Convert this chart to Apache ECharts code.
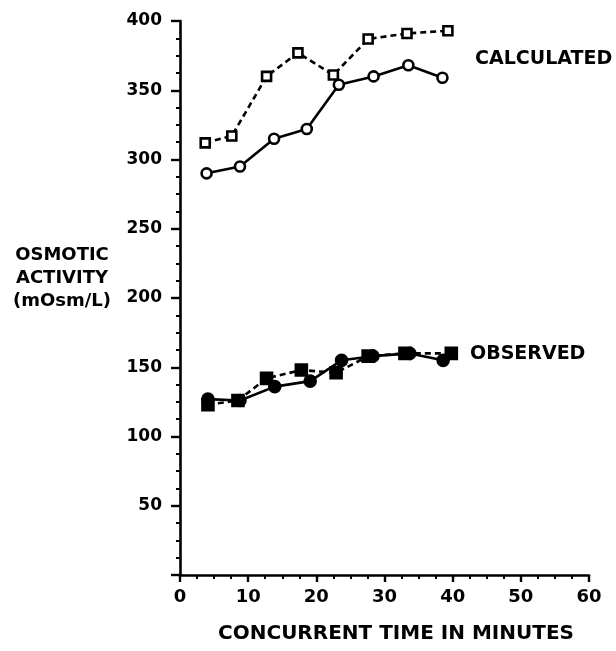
<!DOCTYPE html>
<html>
<head>
<meta charset="utf-8">
<script src="https://cdn.jsdelivr.net/npm/echarts@6/dist/echarts.min.js"></script>
<style>html,body{margin:0;padding:0;background:#fff}#c{width:616px;height:651px}</style>
</head>
<body>
<div id="c"></div>
<script>
// Calculated (open markers)
const calcSquareX = [3.7, 7.6, 12.7, 17.3, 22.5, 27.6, 33.3, 39.3];
const calcSquareY = [312, 317, 360, 377, 361, 387, 391, 393];
const calcCircleX = [3.9, 8.8, 13.8, 18.6, 23.3, 28.4, 33.5, 38.5];
const calcCircleY = [290, 295, 315, 322, 354, 360, 368, 359];
// Observed (filled markers)
const obsSquareX = [4.1, 8.5, 12.7, 17.8, 22.9, 27.6, 33.0, 39.8];
const obsSquareY = [123, 126, 142, 148, 146, 158, 160, 160];
const obsCircleX = [4.1, 8.8, 13.9, 19.1, 23.7, 28.3, 33.7, 38.6];
const obsCircleY = [127, 126, 136, 140, 155, 158, 160, 155];

const xTicks = [0, 10, 20, 30, 40, 50, 60];
const yTicks = [50, 100, 150, 200, 250, 300, 350, 400];
const seriesLabels = ['CALCULATED', 'OBSERVED'];
const yTitleLines = ['OSMOTIC', 'ACTIVITY', '(mOsm/L)'];
const xTitle = 'CONCURRENT TIME IN MINUTES';

const zip = (xs, ys) => xs.map((x, i) => [x, ys[i]]);
const FONT = 'DejaVu Sans';

const chart = echarts.init(document.getElementById('c'), null, {renderer: 'canvas'});

function lineSeries(name, xs, ys, symbol, filled, dashed, size) {
  return {
    name: name,
    type: 'line',
    data: zip(xs, ys),
    symbol: symbol,
    symbolSize: size,
    showAllSymbol: true,
    lineStyle: {color: '#000', width: 2.6, type: dashed ? [6, 4] : 'solid'},
    itemStyle: {color: filled ? '#000' : '#fff', borderColor: '#000', borderWidth: 2.6},
    z: 3,
    animation: false
  };
}

chart.setOption({
  backgroundColor: '#fff',
  animation: false,
  grid: {left: 180, right: 27, top: 21, bottom: 76},
  xAxis: {
    type: 'value', min: 0, max: 60, interval: 10,
    axisLine: {show: true, lineStyle: {color: '#000', width: 2.6}},
    axisTick: {show: true, length: 7, lineStyle: {color: '#000', width: 2.4}},
    minorTick: {show: true, splitNumber: 4, length: 4, lineStyle: {color: '#000', width: 2}},
    splitLine: {show: false},
    axisLabel: {
      color: '#000', fontFamily: FONT, fontWeight: 'bold', fontSize: 18, margin: 13,
      formatter: v => xTicks.includes(v) ? String(v) : ''
    }
  },
  yAxis: {
    type: 'value', min: 0, max: 400, interval: 50,
    axisLine: {show: true, lineStyle: {color: '#000', width: 2.6}},
    axisTick: {show: true, length: 9, lineStyle: {color: '#000', width: 2.4}},
    minorTick: {show: true, splitNumber: 4, length: 4, lineStyle: {color: '#000', width: 2}},
    splitLine: {show: false},
    axisLabel: {
      color: '#000', fontFamily: FONT, fontWeight: 'bold', fontSize: 17, margin: 18,
      formatter: v => yTicks.includes(v) ? String(v) : ''
    }
  },
  graphic: [
    {type: 'text', left: 475, top: 50, style: {text: seriesLabels[0], fill: '#000', font: 'bold 19px "DejaVu Sans"'}},
    {type: 'text', left: 470, top: 345, style: {text: seriesLabels[1], fill: '#000', font: 'bold 19px "DejaVu Sans"'}},
    {type: 'text', x: 62, y: 244, style: {text: yTitleLines.join('\n'), fill: '#000', align: 'center', lineHeight: 23, font: 'bold 18px "DejaVu Sans"'}},
    {type: 'text', x: 396, y: 624, style: {text: xTitle, fill: '#000', align: 'center', font: 'bold 20px "DejaVu Sans"'}}
  ],
  series: [
    lineSeries('Calculated (dashed)', calcSquareX, calcSquareY, 'rect', false, true, 9),
    lineSeries('Calculated (solid)', calcCircleX, calcCircleY, 'circle', false, false, 10),
    lineSeries('Observed (dashed)', obsSquareX, obsSquareY, 'rect', true, true, 11),
    lineSeries('Observed (solid)', obsCircleX, obsCircleY, 'circle', true, false, 11)
  ]
});
</script>
</body>
</html>
